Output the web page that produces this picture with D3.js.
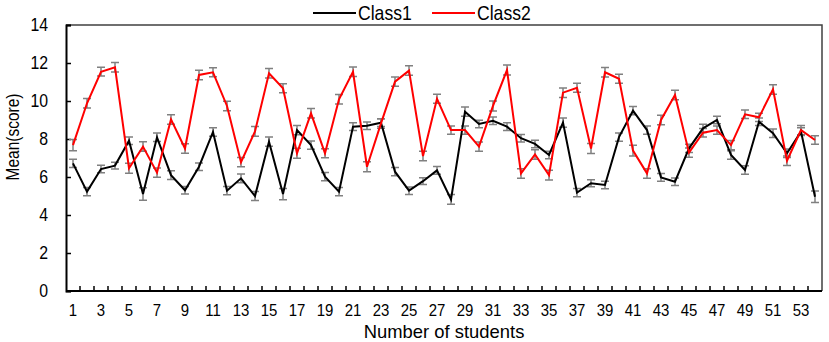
<!DOCTYPE html>
<html>
<head>
<meta charset="utf-8">
<script src="https://cdn.jsdelivr.net/npm/d3@7"></script>
<style>
  body { margin: 0; background: #fff; }
</style>
</head>
<body>
<svg id="chart" width="829" height="342"></svg>
<script>
const students = d3.range(1, 55);

const class1 = [6.72, 5.23, 6.42, 6.6, 7.91, 5.1, 8.09, 6.1, 5.3, 6.54,
                8.37, 5.28, 5.93, 5.0, 7.86, 5.1, 8.47, 7.68, 6.02, 5.23,
                8.65, 8.7, 8.86, 6.28, 5.28, 5.78, 6.35, 4.82, 9.44, 8.79,
                8.96, 8.65, 8.04, 7.74, 7.16, 8.86, 5.18, 5.67, 5.58, 8.1,
                9.49, 8.47, 5.98, 5.75, 7.51, 8.56, 9.0, 7.16, 6.37, 8.91,
                8.3, 7.25, 8.39, 4.96];
const class2 = [7.68, 9.88, 11.54, 11.77, 6.46, 7.6, 6.23, 9.03, 7.5, 11.37,
                11.51, 9.74, 6.78, 8.4, 11.46, 10.67, 7.25, 9.35, 7.25, 10.09,
                11.54, 6.54, 8.82, 11.02, 11.6, 7.1, 10.12, 8.47, 8.47, 7.6,
                9.74, 11.63, 6.19, 7.19, 6.1, 10.44, 10.7, 7.5, 11.51, 11.17,
                7.39, 6.19, 9.0, 10.32, 7.28, 8.33, 8.47, 7.68, 9.3, 9.14,
                10.61, 6.86, 8.47, 7.95];
const err1 = [0.22, 0.22, 0.2, 0.18, 0.2, 0.33, 0.22, 0.23, 0.2, 0.2,
              0.22, 0.22, 0.23, 0.24, 0.24, 0.3, 0.24, 0.22, 0.22, 0.22,
              0.2, 0.2, 0.2, 0.22, 0.2, 0.18, 0.2, 0.26, 0.24, 0.2,
              0.2, 0.2, 0.2, 0.2, 0.2, 0.24, 0.22, 0.18, 0.2, 0.22,
              0.22, 0.22, 0.2, 0.2, 0.22, 0.22, 0.2, 0.22, 0.22, 0.2,
              0.22, 0.22, 0.2, 0.3];
const err2 = [0.3, 0.25, 0.23, 0.25, 0.26, 0.25, 0.24, 0.25, 0.25, 0.25,
              0.24, 0.25, 0.24, 0.26, 0.25, 0.24, 0.26, 0.25, 0.24, 0.25,
              0.25, 0.26, 0.25, 0.24, 0.25, 0.25, 0.24, 0.22, 0.22, 0.24,
              0.26, 0.26, 0.25, 0.25, 0.26, 0.25, 0.24, 0.26, 0.25, 0.24,
              0.28, 0.25, 0.25, 0.25, 0.24, 0.22, 0.22, 0.24, 0.22, 0.22,
              0.25, 0.25, 0.24, 0.22];
const yTicks = [0, 2, 4, 6, 8, 10, 12, 14];
const xLabels = students.filter(d => d % 2 === 1);

const series = [
  { name: "Class1", values: class1, errors: err1, color: "#000000" },
  { name: "Class2", values: class2, errors: err2, color: "#ff0000" }
];

// the original uses a condensed-looking serif; squeeze a plain face horizontally instead
const fontFam = '"Liberation Sans", Arial, sans-serif';
const squeeze = 0.88;
const margin = { left: 66, right: 7, top: 25, bottom: 51 };
const width = 829, height = 342;

const svg = d3.select("#chart");

const x = d3.scaleBand()
    .domain(students)
    .range([margin.left, width - margin.right])
    .padding(0);

const y = d3.scaleLinear()
    .domain([0, 14])
    .range([height - margin.bottom, margin.top]);

const cx = d => x(d) + x.bandwidth() / 2;

// frame (top and right)
svg.append("path")
    .attr("d", `M${margin.left},${margin.top}H${width - margin.right}V${height - margin.bottom}`)
    .attr("fill", "none")
    .attr("stroke", "#404040")
    .attr("stroke-width", 1.5);

// y axis: line and inside ticks
const yAxis = svg.append("g")
    .attr("transform", `translate(${margin.left},0)`)
    .call(d3.axisLeft(y).tickValues(yTicks).tickSize(-5).tickFormat(""));
yAxis.select(".domain").attr("stroke", "#000").attr("stroke-width", 2);
yAxis.selectAll(".tick line").attr("stroke", "#000").attr("stroke-width", 1.5);

svg.append("g").selectAll("text")
    .data(yTicks)
    .enter()
    .append("text")
    .attr("transform", d => `translate(48,${y(d)}) scale(${squeeze},1)`)
    .attr("dy", "0.36em")
    .attr("text-anchor", "end")
    .style("font-size", "18px")
    .style("font-family", fontFam)
    .text(d => d);

// x axis: ticks between categories, inside the plot
const xAxis = svg.append("g");
xAxis.append("line")
    .attr("x1", margin.left).attr("x2", width - margin.right)
    .attr("y1", y(0)).attr("y2", y(0))
    .attr("stroke", "#000").attr("stroke-width", 2);
xAxis.selectAll(".xtick")
    .data(students.slice(1))
    .enter()
    .append("line")
    .attr("x1", d => x(d)).attr("x2", d => x(d))
    .attr("y1", y(0)).attr("y2", y(0) - 5)
    .attr("stroke", "#000").attr("stroke-width", 1.5);
xAxis.selectAll(".xlabel")
    .data(xLabels)
    .enter()
    .append("text")
    .attr("transform", d => `translate(${cx(d)},316) scale(${squeeze},1)`)
    .attr("text-anchor", "middle")
    .style("font-size", "17px")
    .style("font-family", fontFam)
    .text(d => d);

// axis titles
svg.append("text")
    .attr("transform", `translate(${(margin.left + width - margin.right) / 2},337.5) scale(0.97,1)`)
    .attr("text-anchor", "middle")
    .style("font-size", "19px")
    .style("font-family", fontFam)
    .text("Number of students");

svg.append("text")
    .attr("transform", `translate(19,137) rotate(-90) scale(0.86,1)`)
    .attr("text-anchor", "middle")
    .style("font-size", "18px")
    .style("font-family", fontFam)
    .text("Mean(score)");

// error bars
const capW = 4;
series.forEach(s => {
  const g = svg.append("g").attr("class", "errbars");
  const items = students.map((d, i) => ({ k: d, v: s.values[i], e: s.errors[i] }));
  g.selectAll("path")
      .data(items)
      .enter()
      .append("path")
      .attr("d", d => {
        const xc = cx(d.k), y1 = y(d.v + d.e), y2 = y(d.v - d.e);
        return `M${xc - capW},${y1}H${xc + capW}M${xc},${y1}V${y2}M${xc - capW},${y2}H${xc + capW}`;
      })
      .attr("fill", "none")
      .attr("stroke", "#808080")
      .attr("stroke-width", 1.5);
});

// lines
const line = d3.line()
    .x(d => cx(d[0]))
    .y(d => y(d[1]));

series.forEach(s => {
  svg.append("path")
      .datum(students.map((d, i) => [d, s.values[i]]))
      .attr("d", line)
      .attr("fill", "none")
      .attr("stroke", s.color)
      .attr("stroke-width", 2)
      .attr("stroke-linejoin", "miter");
});

// legend
const legend = svg.selectAll(".legend")
    .data(series)
    .enter()
    .append("g")
    .attr("class", "legend")
    .attr("transform", (d, i) => `translate(${313 + i * 119},13)`);

legend.append("line")
    .attr("x1", 0).attr("x2", 43)
    .attr("stroke", d => d.color)
    .attr("stroke-width", 2);

legend.append("text")
    .attr("transform", "translate(45,7) scale(0.88,1)")
    .style("font-size", "20px")
    .style("font-family", fontFam)
    .text(d => d.name);
</script>
</body>
</html>
